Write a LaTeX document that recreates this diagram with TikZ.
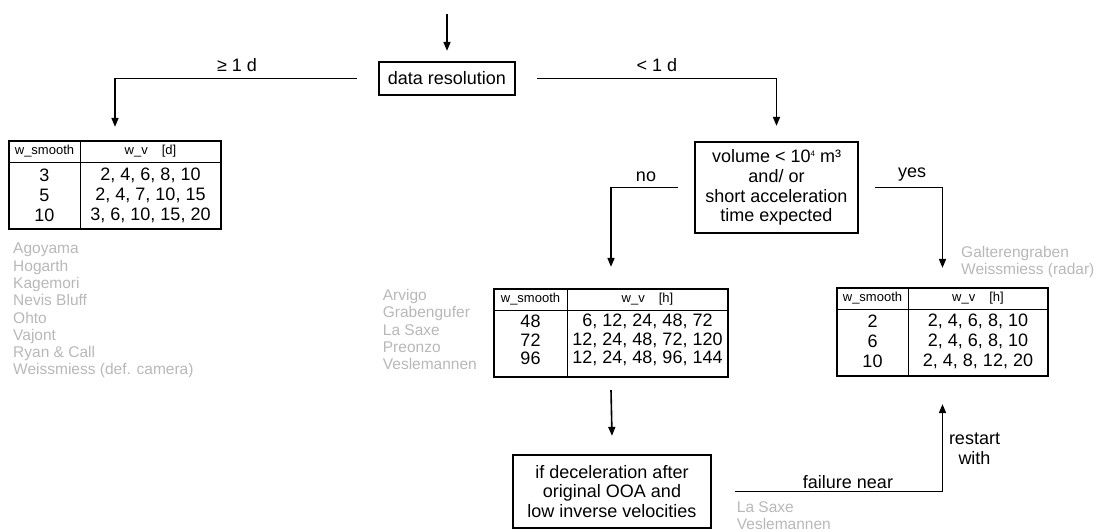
\documentclass[tikz,border=0pt]{standalone}
\usepackage{fontspec}
\setmainfont{Liberation Sans}
\usetikzlibrary{arrows.meta}
\definecolor{namegray}{gray}{0.72}
\tikzset{
  conn/.style={line width=1.6pt, -{Triangle[length=9pt,width=7pt]}},
  decision/.style={draw, line width=2.2pt, inner sep=0pt, align=center,
    font=\fontsize{18}{19.8}\selectfont},
  lbl/.style={font=\fontsize{18}{20}\selectfont, inner sep=0pt, align=center},
  names/.style={font=\fontsize{15.5}{17.3}\selectfont, text=namegray,
    align=left, anchor=north west, inner sep=0pt},
  tabframe/.style={draw, line width=2.2pt, inner sep=0pt},
  tabrule/.style={line width=0.9pt},
  tabhead/.style={font=\fontsize{13}{14}\selectfont, inner sep=0pt},
  tabcell/.style={font=\fontsize{18}{20}\selectfont, inner sep=0pt},
}
\begin{document}
\begin{tikzpicture}[x=1pt,y=-1pt]
\useasboundingbox (0,0) rectangle (1096,532);

% decision boxes
\node[decision, minimum width=136pt, minimum height=33pt] (res) at (447,78.5) {data resolution};
\node[decision, minimum width=163pt, minimum height=91pt] (vol) at (776.5,187.5)
  {volume < 10{\fontsize{8}{8}\selectfont\raisebox{6pt}{4}} m³\\and/ or\\short acceleration\\time expected};
\node[decision, minimum width=198pt, minimum height=73pt] (dec) at (612,491.5)
  {if deceleration after\\original OOA and\\low inverse velocities};

% table for daily data
\node[tabframe, minimum width=212pt, minimum height=88pt] (tabA) at (115,185) {};
\draw[tabrule] (9,162) -- (221,162) (80,141) -- (80,229);
\node[tabhead] (tAh1) at (44.5,151.5) {w\_smooth};
\node[tabhead] (tAh2) at (150.5,151.5) {w\_v\hspace{14pt}[d]};
\node[tabcell] (tAa1) at (44.5,175.7) {3};
\node[tabcell] (tAa2) at (44.5,195.3) {5};
\node[tabcell] (tAa3) at (44.5,215) {10};
\node[tabcell] (tAb1) at (150.5,175.7) {2, 4, 6, 8, 10};
\node[tabcell] (tAb2) at (150.5,195.3) {2, 4, 7, 10, 15};
\node[tabcell] (tAb3) at (150.5,215) {3, 6, 10, 15, 20};

% table for sub-daily data, large volume
\node[tabframe, minimum width=234pt, minimum height=88pt] (tabB) at (611,333) {};
\draw[tabrule] (494,310) -- (728,310) (567,289) -- (567,377);
\node[tabhead] (tBh1) at (530.5,299.5) {w\_smooth};
\node[tabhead] (tBh2) at (647.5,299.5) {w\_v\hspace{14pt}[h]};
\node[tabcell] (tBa1) at (530.5,321.5) {48};
\node[tabcell] (tBa2) at (530.5,340) {72};
\node[tabcell] (tBa3) at (530.5,358.5) {96};
\node[tabcell] (tBb1) at (647.5,321.5) {6, 12, 24, 48, 72};
\node[tabcell] (tBb2) at (647.5,340) {12, 24, 48, 72, 120};
\node[tabcell] (tBb3) at (647.5,358.5) {12, 24, 48, 96, 144};

% table for sub-daily data, small volume
\node[tabframe, minimum width=211pt, minimum height=88pt] (tabC) at (942.5,332) {};
\draw[tabrule] (837,309) -- (1048,309) (908,288) -- (908,376);
\node[tabhead] (tCh1) at (872.5,298.5) {w\_smooth};
\node[tabhead] (tCh2) at (978,298.5) {w\_v\hspace{14pt}[h]};
\node[tabcell] (tCa1) at (872.5,321.7) {2};
\node[tabcell] (tCa2) at (872.5,341.7) {6};
\node[tabcell] (tCa3) at (872.5,361.7) {10};
\node[tabcell] (tCb1) at (978,321.7) {2, 4, 6, 8, 10};
\node[tabcell] (tCb2) at (978,341.7) {2, 4, 6, 8, 10};
\node[tabcell] (tCb3) at (978,361.7) {2, 4, 8, 12, 20};

% case studies
\node[names] (nA) at (13,243) {Agoyama\\Hogarth\\Kagemori\\Nevis Bluff\\Ohto\\Vajont\\Ryan \& Call\\Weissmiess (def. camera)};
\node[names] (nB) at (382.7,289) {Arvigo\\Grabengufer\\La Saxe\\Preonzo\\Veslemannen};
\node[names] (nC) at (961,246) {Galterengraben\\Weissmiess (radar)};
\node[names] (nD) at (736.7,501.3) {La Saxe\\Veslemannen};

% connectors
\coordinate (src) at (447,14);
\draw[conn] (src) -- ([yshift=10pt]res.north);
\draw[conn] ([xshift=-21pt]res.west) -| ([yshift=13pt]tabA.north);
\draw[conn] ([xshift=21pt]res.east) -| ([yshift=15pt]vol.north);
\draw[conn] ([xshift=-16pt]vol.west) -| ([yshift=21pt]tabB.north);
\draw[conn] ([xshift=16pt]vol.east) -| ([yshift=19pt]tabC.north);
\draw[conn] ([yshift=-12pt]tabB.south) -- ([yshift=18pt]dec.north);
\draw[conn] ([xshift=23pt]dec.east) -| ([yshift=-27pt]tabC.south);

% branch labels
\node[lbl] (lge) at (237,65) {≥ 1 d};
\node[lbl] (llt) at (657,65) {< 1 d};
\node[lbl] (lno) at (646,176.7) {no};
\node[lbl] (lyes) at (912,175) {yes};
\node[lbl] (lfail) at (848,481.7) {failure near};
\node[lbl] (lrestart) at (974.5,448.3) {restart\\with};
\end{tikzpicture}
\end{document}
